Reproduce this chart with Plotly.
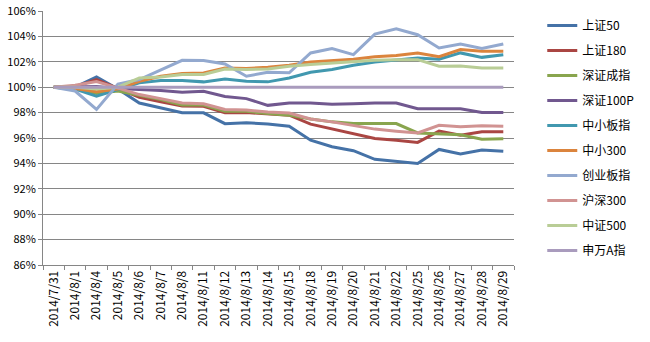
import plotly.graph_objects as go

dates = ["2014/7/31", "2014/8/1", "2014/8/4", "2014/8/5", "2014/8/6", "2014/8/7", "2014/8/8",
         "2014/8/11", "2014/8/12", "2014/8/13", "2014/8/14", "2014/8/15", "2014/8/18", "2014/8/19",
         "2014/8/20", "2014/8/21", "2014/8/22", "2014/8/25", "2014/8/26", "2014/8/27", "2014/8/28",
         "2014/8/29"]

sz50 = [100, 100.0, 100.8, 99.85, 98.75, 98.38, 97.99, 97.98, 97.13, 97.2, 97.1, 96.93, 95.83, 95.31,
        95.0, 94.32, 94.16, 94.0, 95.1, 94.74, 95.05, 94.95]
sz180 = [100, 100.05, 100.6, 99.9, 99.2, 98.85, 98.51, 98.5, 97.99, 98.0, 97.92, 97.8, 97.09, 96.7,
         96.37, 95.96, 95.83, 95.65, 96.54, 96.22, 96.49, 96.49]
szcz = [100, 99.9, 99.5, 99.7, 99.37, 99.03, 98.6, 98.6, 98.1, 98.1, 97.92, 97.8, 97.5, 97.27,
        97.14, 97.14, 97.14, 96.4, 96.3, 96.25, 95.9, 95.95]
sz100p = [100, 100.0, 100.05, 99.9, 99.82, 99.74, 99.6, 99.68, 99.27, 99.1, 98.57, 98.76, 98.76, 98.65,
          98.7, 98.76, 98.76, 98.3, 98.3, 98.3, 98.0, 98.0]
zxbz = [100, 99.85, 99.3, 99.8, 100.34, 100.53, 100.53, 100.42, 100.65, 100.47, 100.42, 100.73, 101.18,
        101.39, 101.73, 101.99, 102.17, 102.3, 102.2, 102.7, 102.35, 102.56]
zx300 = [100, 99.9, 99.65, 99.85, 100.47, 100.86, 101.07, 101.12, 101.52, 101.47, 101.57, 101.73, 101.99,
         102.1, 102.2, 102.4, 102.5, 102.7, 102.4, 102.96, 102.83, 102.83]
cybz = [100, 99.7, 98.25, 100.25, 100.6, 101.39, 102.12, 102.1, 101.83, 100.86, 101.18, 101.13, 102.7,
        103.04, 102.56, 104.18, 104.6, 104.13, 103.09, 103.4, 103.04, 103.4]
hs300 = [100, 100.15, 100.45, 99.95, 99.42, 99.1, 98.75, 98.7, 98.25, 98.2, 98.05, 97.97, 97.5, 97.27,
         97.0, 96.7, 96.54, 96.4, 97.0, 96.88, 96.96, 96.93]
zz500 = [100, 100.0, 99.85, 100.0, 100.73, 100.8, 101.0, 101.0, 101.43, 101.4, 101.43, 101.65, 101.78,
         101.9, 102.04, 102.12, 102.17, 102.17, 101.65, 101.67, 101.52, 101.52]
swa = [100] * 22

series = [
    ("上证50", sz50, "#4572A7"),
    ("上证180", sz180, "#AA4643"),
    ("深证成指", szcz, "#89A54E"),
    ("深证100P", sz100p, "#71588F"),
    ("中小板指", zxbz, "#4198AF"),
    ("中小300", zx300, "#DB843D"),
    ("创业板指", cybz, "#93A9CF"),
    ("沪深300", hs300, "#D19392"),
    ("中证500", zz500, "#B9CD96"),
    ("申万A指", swa, "#A99BBD"),
]

yticks = list(range(86, 107, 2))

fig = go.Figure()
for name, vals, color in series:
    fig.add_trace(go.Scatter(x=dates, y=vals, mode="lines", name=name, legendgroup=name,
                             line=dict(color=color, width=3)))

font_family = "Noto Sans CJK SC"
fig.update_layout(
    width=650, height=342,
    margin=dict(l=43, r=97, t=11, b=77),
    paper_bgcolor="white", plot_bgcolor="white",
    font=dict(family=font_family, size=11, color="black"),
    showlegend=True,
    legend=dict(x=1.06, xanchor="left", y=1.0, yanchor="top",
                font=dict(family=font_family, size=12, color="black"),
                tracegroupgap=6, bgcolor="rgba(0,0,0,0)", borderwidth=0),
    xaxis=dict(type="category", tickangle=-90, showgrid=False, showline=True,
               linecolor="#868686", linewidth=1, ticks="outside", tickson="boundaries",
               ticklen=4, tickcolor="#868686", tickfont=dict(size=12),
               range=[-0.5, len(dates) - 0.5], automargin=False),
    yaxis=dict(range=[86, 106], tickvals=yticks, ticktext=[f"{v}%" for v in yticks],
               showgrid=True, gridcolor="#868686", gridwidth=1, showline=True,
               linecolor="#868686", linewidth=1, ticks="outside", ticklen=4,
               tickcolor="#868686", zeroline=False, tickfont=dict(size=11), automargin=False),
)

fig.write_html("out.html")
